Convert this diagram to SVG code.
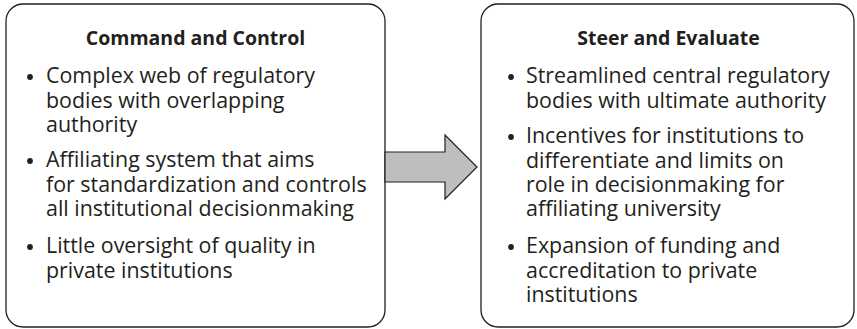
<svg xmlns="http://www.w3.org/2000/svg" width="857" height="329" viewBox="0 0 857 329">
<style>
.box{fill:#ffffff;stroke:#231f20;stroke-width:1.3}
.title{font-family:"Open Sans","Noto Sans",sans-serif;font-weight:bold;font-size:19.5px;fill:#231f20;text-anchor:middle}
.t{font-family:"Open Sans","Noto Sans",sans-serif;font-size:21.4px;fill:#231f20}
.dot{fill:#231f20}
.arrow{fill:#bcbec0;stroke:#231f20;stroke-width:1.2;stroke-linejoin:miter}
</style>
<rect width="857" height="329" fill="#ffffff"/>
<g id="node-command">
<rect class="box" x="6" y="4" width="379" height="323" rx="17" ry="17"/>
<text class="title" x="195.5" y="45">Command and Control</text>
<circle class="dot" cx="30" cy="77" r="2.9"/>
<text class="t" x="46" y="83">Complex web of regulatory</text>
<text class="t" x="46" y="107.5">bodies with overlapping</text>
<text class="t" x="46" y="132">authority</text>
<circle class="dot" cx="30" cy="161" r="2.9"/>
<text class="t" x="46" y="167">Affiliating system that aims</text>
<text class="t" x="46" y="191.5">for standardization and controls</text>
<text class="t" x="46" y="216">all institutional decisionmaking</text>
<circle class="dot" cx="30" cy="247" r="2.9"/>
<text class="t" x="46" y="253">Little oversight of quality in</text>
<text class="t" x="46" y="277.5">private institutions</text>
</g>
<g id="node-steer">
<rect class="box" x="481" y="4" width="373" height="323" rx="17" ry="17"/>
<text class="title" x="668.5" y="45">Steer and Evaluate</text>
<circle class="dot" cx="511" cy="77" r="2.9"/>
<text class="t" x="526" y="83">Streamlined central regulatory</text>
<text class="t" x="526" y="107.5">bodies with ultimate authority</text>
<circle class="dot" cx="511" cy="137" r="2.9"/>
<text class="t" x="526" y="143">Incentives for institutions to</text>
<text class="t" x="526" y="167.5">differentiate and limits on</text>
<text class="t" x="526" y="192">role in decisionmaking for</text>
<text class="t" x="526" y="216">affiliating university</text>
<circle class="dot" cx="511" cy="247" r="2.9"/>
<text class="t" x="526" y="253">Expansion of funding and</text>
<text class="t" x="526" y="277.5">accreditation to private</text>
<text class="t" x="526" y="302">institutions</text>
</g>
<g id="connectors">
<polygon class="arrow" points="385,152 445,152 445,135 477,167 445,199 445,182 385,182"/>
</g>
</svg>
